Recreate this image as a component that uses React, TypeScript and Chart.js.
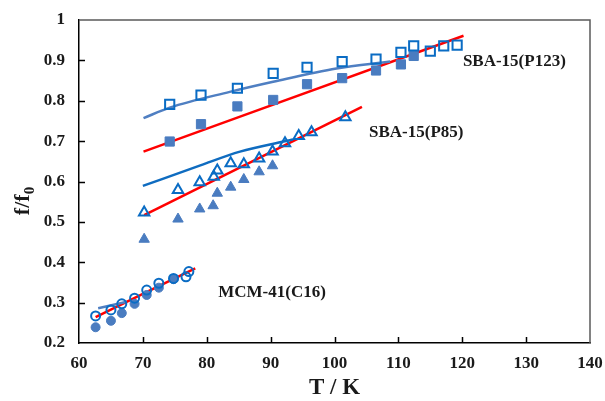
import React, { useEffect, useRef } from "react";
import { Chart, registerables } from "chart.js";

Chart.register(...registerables);

// ---- data ----
const xTickValues = [60, 70, 80, 90, 100, 110, 120, 130, 140];
const yTickValues = [0.2, 0.3, 0.4, 0.5, 0.6, 0.7, 0.8, 0.9, 1];

const p123OpenT = [74.2, 79.1, 84.8, 90.4, 95.7, 101.2, 106.5, 110.4, 112.4, 115.0, 117.1, 119.2];
const p123Open = [0.791, 0.814, 0.831, 0.868, 0.883, 0.897, 0.903, 0.92, 0.936, 0.923, 0.936, 0.938];
const p123FilledT = [74.2, 79.1, 84.8, 90.4, 95.7, 101.2, 106.5, 110.4, 112.4];
const p123Filled = [0.699, 0.742, 0.786, 0.802, 0.841, 0.856, 0.875, 0.89, 0.911];
const p123CurveT = [70.1, 74.2, 83.6, 90.4, 100.3, 108.7];
const p123Curve = [0.757, 0.783, 0.822, 0.847, 0.88, 0.897];
const p123FitT = [70.1, 120.2];
const p123Fit = [0.674, 0.961];

const p85OpenT = [70.2, 75.5, 78.9, 81.1, 81.65, 83.75, 85.8, 88.2, 90.3, 92.25, 94.4, 96.4, 101.7];
const p85Open = [0.523, 0.579, 0.598, 0.612, 0.627, 0.645, 0.643, 0.657, 0.674, 0.695, 0.713, 0.722, 0.759];
const p85FilledT = [70.2, 75.5, 78.9, 81.0, 81.65, 83.75, 85.8, 88.2, 90.3];
const p85Filled = [0.457, 0.507, 0.532, 0.54, 0.571, 0.586, 0.605, 0.624, 0.639];
const p85CurveT = [70.0, 79.0, 85.2, 92.0, 93.5];
const p85Curve = [0.589, 0.64, 0.674, 0.699, 0.704];
const p85FitT = [70.2, 104.3];
const p85Fit = [0.517, 0.785];

const mcmOpenT = [62.6, 65.0, 66.7, 68.7, 70.6, 72.5, 74.8, 76.75, 77.2];
const mcmOpen = [0.267, 0.282, 0.297, 0.311, 0.331, 0.348, 0.36, 0.364, 0.377];
const mcmFilledT = [62.6, 65.0, 66.7, 68.7, 70.6, 72.5, 74.8];
const mcmFilled = [0.239, 0.255, 0.274, 0.297, 0.319, 0.337, 0.358];
const mcmCurveT = [63.0, 67.5];
const mcmCurve = [0.286, 0.302];
const mcmFitT = [62.6, 78.2];
const mcmFit = [0.264, 0.385];

const seriesLabels = ["SBA-15(P123)", "SBA-15(P85)", "MCM-41(C16)"];
const seriesLabelT = [120.1, 105.4, 81.8];
const seriesLabelF = [0.896, 0.72, 0.326];

const xTitle = "T / K";
const yTitleMain = "f/f";
const yTitleSub = "0";

// ---- styles ----
const FONT = '"Liberation Serif", "Times New Roman", serif';
const OPEN_BLUE = "#0a6cc4";
const FILL_BLUE = "#4a7cc0";
const CURVE_BLUE_LIGHT = "#4f7fc2";
const CURVE_BLUE = "#0f6cc0";
const RED = "#ff0000";

const pts = (xs: number[], ys: number[]) => xs.map((x, i) => ({ x, y: ys[i] }));

function markerSet(label: string, xs: number[], ys: number[], style: string, open: boolean, radius: number) {
  return {
    label,
    data: pts(xs, ys),
    showLine: false,
    pointStyle: style,
    pointRadius: radius,
    pointHoverRadius: radius,
    pointBorderWidth: open ? 2 : 1,
    borderColor: open ? OPEN_BLUE : FILL_BLUE,
    backgroundColor: open ? "rgba(0,0,0,0)" : FILL_BLUE,
  };
}

function lineSet(label: string, xs: number[], ys: number[], color: string, width: number) {
  return {
    label,
    data: pts(xs, ys),
    showLine: true,
    pointRadius: 0,
    pointHoverRadius: 0,
    borderColor: color,
    backgroundColor: color,
    borderWidth: width,
    tension: 0.4,
    cubicInterpolationMode: "monotone",
  };
}

const decorPlugin = {
  id: "decor",
  afterDraw(chart: any) {
    const { ctx, chartArea, scales } = chart;
    const xs = scales.x;
    const ys = scales.y;
    ctx.save();
    // top & right frame
    ctx.strokeStyle = "#5a5a5a";
    ctx.lineWidth = 1.5;
    ctx.beginPath();
    ctx.moveTo(chartArea.left, chartArea.top);
    ctx.lineTo(chartArea.right, chartArea.top);
    ctx.lineTo(chartArea.right, chartArea.bottom);
    ctx.stroke();
    // inward ticks
    ctx.strokeStyle = "#000";
    ctx.lineWidth = 1.5;
    ctx.beginPath();
    yTickValues.forEach((v) => {
      const y = Math.round(ys.getPixelForValue(v)) + 0.5;
      if (y <= chartArea.top + 1 || y >= chartArea.bottom - 1) return;
      ctx.moveTo(chartArea.left, y);
      ctx.lineTo(chartArea.left + 6, y);
    });
    xTickValues.forEach((v) => {
      const x = Math.round(xs.getPixelForValue(v)) + 0.5;
      if (x <= chartArea.left + 1 || x >= chartArea.right - 1) return;
      ctx.moveTo(x, chartArea.bottom);
      ctx.lineTo(x, chartArea.bottom - 6);
    });
    ctx.stroke();
    // series labels
    ctx.fillStyle = "#1a1a1a";
    ctx.font = `bold 17px ${FONT}`;
    ctx.textAlign = "left";
    ctx.textBaseline = "middle";
    seriesLabels.forEach((t, i) => {
      ctx.fillText(t, xs.getPixelForValue(seriesLabelT[i]), ys.getPixelForValue(seriesLabelF[i]));
    });
    // x title
    ctx.font = `bold 23px ${FONT}`;
    ctx.textAlign = "center";
    ctx.fillText(xTitle, (chartArea.left + chartArea.right) / 2, 388);
    // y title with subscript
    ctx.save();
    ctx.translate(29, 201);
    ctx.rotate(-Math.PI / 2);
    ctx.textAlign = "left";
    ctx.textBaseline = "alphabetic";
    ctx.font = `bold 22px ${FONT}`;
    const w1 = ctx.measureText(yTitleMain).width;
    ctx.font = `bold 15px ${FONT}`;
    const w2 = ctx.measureText(yTitleSub).width;
    const start = -(w1 + w2) / 2;
    ctx.font = `bold 22px ${FONT}`;
    ctx.fillText(yTitleMain, start, 0);
    ctx.font = `bold 15px ${FONT}`;
    ctx.fillText(yTitleSub, start + w1, 5);
    ctx.restore();
    ctx.restore();
  },
};

export default function App() {
  const canvasRef = useRef<HTMLCanvasElement | null>(null);

  useEffect(() => {
    document.body.style.margin = "0";
    const canvas = canvasRef.current;
    if (!canvas) return;
    const datasets: any[] = [
      markerSet("P123 open", p123OpenT, p123Open, "rect", true, 6.5),
      markerSet("P123 filled", p123FilledT, p123Filled, "rect", false, 6.5),
      markerSet("P85 open", p85OpenT, p85Open, "triangle", true, 6),
      markerSet("P85 filled", p85FilledT, p85Filled, "triangle", false, 6),
      markerSet("MCM open", mcmOpenT, mcmOpen, "circle", true, 4.5),
      markerSet("MCM filled", mcmFilledT, mcmFilled, "circle", false, 4.5),
      lineSet("P123 curve", p123CurveT, p123Curve, CURVE_BLUE_LIGHT, 2.5),
      lineSet("P123 fit", p123FitT, p123Fit, RED, 2.5),
      lineSet("P85 curve", p85CurveT, p85Curve, CURVE_BLUE, 2.5),
      lineSet("P85 fit", p85FitT, p85Fit, RED, 2.5),
      lineSet("MCM curve", mcmCurveT, mcmCurve, CURVE_BLUE_LIGHT, 2.5),
      lineSet("MCM fit", mcmFitT, mcmFit, RED, 2.5),
    ];
    const chart = new Chart(canvas, {
      type: "scatter",
      data: { datasets },
      options: {
        responsive: false,
        animation: false,
        events: [],
        layout: { padding: { top: 20, right: 15, left: 0, bottom: 0 } },
        plugins: { legend: { display: false }, tooltip: { enabled: false } },
        scales: {
          x: {
            type: "linear",
            min: 60,
            max: 140,
            afterFit: (s: any) => {
              s.height = 58;
              s.paddingLeft = 0;
              s.paddingRight = 0;
              s.paddingTop = 0;
              s.paddingBottom = 0;
            },
            afterBuildTicks: (s: any) => {
              s.ticks = xTickValues.map((v) => ({ value: v }));
            },
            grid: { display: false, drawTicks: false },
            border: { display: true, color: "#000", width: 1.5 },
            ticks: {
              padding: 10,
              maxRotation: 0,
              autoSkip: false,
              color: "#1a1a1a",
              font: { family: FONT, size: 17, weight: "bold" },
              callback: (v: any) => String(v),
            },
          },
          y: {
            type: "linear",
            min: 0.2,
            max: 1,
            afterFit: (s: any) => {
              s.width = 79;
              s.paddingLeft = 0;
              s.paddingRight = 0;
              s.paddingTop = 0;
              s.paddingBottom = 0;
            },
            afterBuildTicks: (s: any) => {
              s.ticks = yTickValues.map((v) => ({ value: v }));
            },
            grid: { display: false, drawTicks: false },
            border: { display: true, color: "#000", width: 1.5 },
            ticks: {
              padding: 14,
              autoSkip: false,
              color: "#1a1a1a",
              font: { family: FONT, size: 17, weight: "bold" },
              callback: (v: any) => String(Number(Number(v).toFixed(1))),
            },
          },
        },
      } as any,
      plugins: [decorPlugin],
    });
    return () => chart.destroy();
  }, []);

  return (
    <div style={{ width: 605, height: 401, background: "#fff" }}>
      <canvas ref={canvasRef} width={605} height={401} style={{ display: "block" }} />
    </div>
  );
}
